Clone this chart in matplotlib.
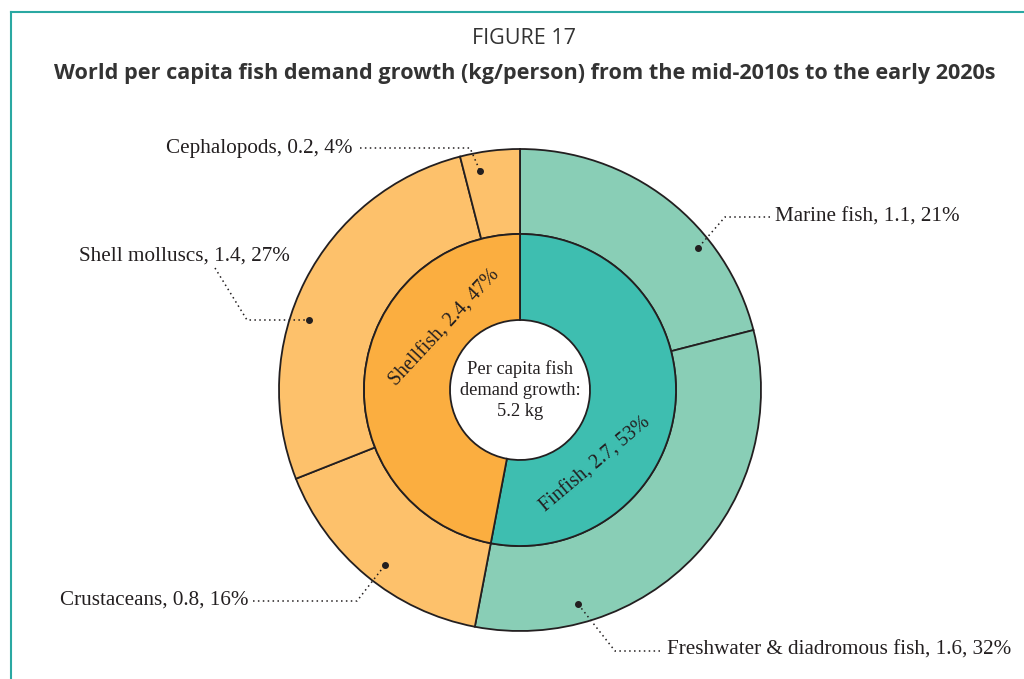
import matplotlib
matplotlib.use("Agg")
import matplotlib.pyplot as plt
from matplotlib.lines import Line2D

# ---- data ----
inner_labels = ["Finfish", "Shellfish"]
inner_values = [2.7, 2.4]
inner_pct = [53, 47]
outer_labels = ["Marine fish", "Freshwater & diadromous fish", "Crustaceans",
                "Shell molluscs", "Cephalopods"]
outer_values = [1.1, 1.6, 0.8, 1.4, 0.2]
outer_pct = [21, 32, 16, 27, 4]
total_kg = 5.2

inner_colors = ["#3EBEB0", "#FBAE40"]
outer_colors = ["#89CEB6", "#89CEB6", "#FDC16B", "#FDC16B", "#FDC16B"]

W, H = 1024, 679
fig = plt.figure(figsize=(W / 100, H / 100), dpi=100)
ax = fig.add_axes([0, 0, 1, 1])

def P(x, y):
    """pixel coords (y down) -> data coords"""
    return x, H - y

cx, cy = P(520, 390)
R_out, R_mid, R_in = 241, 156, 70
edge = "#231F20"

ax.pie(outer_pct, radius=R_out, center=(cx, cy), startangle=90, counterclock=False,
       colors=outer_colors,
       wedgeprops=dict(width=R_out - R_mid, edgecolor=edge, linewidth=1.3))
ax.pie(inner_pct, radius=R_mid, center=(cx, cy), startangle=90, counterclock=False,
       colors=inner_colors,
       wedgeprops=dict(width=R_mid - R_in, edgecolor=edge, linewidth=1.3))

ax.set_xlim(0, W)
ax.set_ylim(0, H)
ax.set_aspect("auto")
ax.axis("off")

serif = "Liberation Serif"
tcol = "#231F20"
fs = 15.2

# center text
ax.text(cx, cy, f"Per capita fish\ndemand growth:\n{total_kg} kg", ha="center", va="center",
        fontsize=13.3, family=serif, color=tcol, linespacing=1.3)

# inner ring labels (rotated)
inner_layout = {"Shellfish": ((445, 328), 47), "Finfish": ((596, 465), 40)}
for lab, val, pct in zip(inner_labels, inner_values, inner_pct):
    (px, py), rot = inner_layout[lab]
    x, y = P(px, py)
    ax.text(x, y, f"{lab}, {val}, {pct}%", ha="center", va="center", rotation=rot,
            rotation_mode="anchor", fontsize=14.3, family=serif, color=tcol)

# outer labels with dotted leaders: (text anchor, ha, leader path from text to dot)
outer_layout = {
    "Marine fish": ((775, 217), "left", [(770, 217), (725, 217), (698, 248)]),
    "Freshwater & diadromous fish": ((667, 650), "left", [(660, 651), (615, 651), (578, 604)]),
    "Crustaceans": ((248, 600), "right", [(253, 601), (357, 601), (385, 565)]),
    "Shell molluscs": ((290, 256), "right", [(215, 268), (247, 320), (309, 320)]),
    "Cephalopods": ((352, 149), "right", [(360, 148), (470, 148), (480, 171)]),
}
for lab, val, pct in zip(outer_labels, outer_values, outer_pct):
    (tx, ty), ha, path = outer_layout[lab]
    x, y = P(tx, ty)
    ax.text(x, y, f"{lab}, {val}, {pct}%", ha=ha, va="center", fontsize=fs,
            family=serif, color=tcol)
    xs = [p[0] for p in path]
    ys = [H - p[1] for p in path]
    ax.plot(xs, ys, linestyle=(0, (1, 2.2)), color=tcol, linewidth=1.1)
    ax.plot(xs[-1], ys[-1], "o", color=tcol, markersize=4)

# titles
sans = "Open Sans"
ax.text(*P(524, 38), "FIGURE 17", ha="center", va="center", fontsize=15.5,
        family=sans, color="#333333")
ax.text(*P(525, 74), "World per capita fish demand growth (kg/person) from the mid-2010s to the early 2020s",
        ha="center", va="center", fontsize=15.6, family=sans, fontweight="bold", color="#333333")

# frame (top and left teal lines)
frame_col = "#2AA8A2"
ax.add_line(Line2D([11, W], [H - 12, H - 12], color=frame_col, linewidth=1.5))
ax.add_line(Line2D([11, 11], [0, H - 12], color=frame_col, linewidth=1.5))

fig.savefig("out.png", dpi=100, facecolor="white")
